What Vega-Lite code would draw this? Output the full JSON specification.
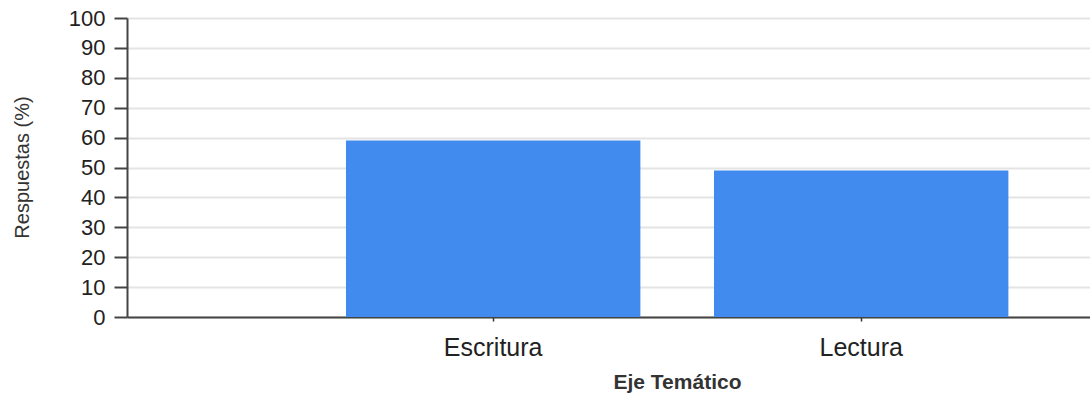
{
  "$schema": "https://vega.github.io/schema/vega-lite/v6.json",
  "width": 963,
  "height": 299,
  "autosize": {"type": "none"},
  "padding": {"left": 127, "top": 18, "right": 0, "bottom": 80},
  "background": "white",
  "config": {"view": {"stroke": null}, "font": "Liberation Sans"},
  "data": {"values": [
    {"eje": "Escritura", "pct": 59},
    {"eje": "Lectura", "pct": 49}
  ]},
  "mark": {"type": "bar", "color": "#418AEE"},
  "encoding": {
    "x": {
      "field": "eje", "type": "nominal",
      "scale": {"domain": ["Escritura", "Lectura"], "paddingInner": 0.2, "paddingOuter": 0.4084, "align": 0.7285},
      "axis": {
        "title": "Eje Temático", "titleFont": "Liberation Sans", "titleFontSize": 21, "titleFontWeight": "bold", "titleColor": "#333",
        "titleX": 550, "titleY": 65, "titleBaseline": "middle", "titleAlign": "center",
        "labelAngle": 0, "labelFontSize": 25, "labelColor": "#222", "labelPadding": 14,
        "tickSize": 4, "tickColor": "#333", "tickWidth": 1.5,
        "domainColor": "#444", "domainWidth": 2, "grid": false
      }
    },
    "y": {
      "field": "pct", "type": "quantitative",
      "scale": {"domain": [0, 100], "nice": false},
      "axis": {
        "title": "Respuestas (%)", "titleFont": "Liberation Sans", "titleFontSize": 20, "titleFontWeight": "normal", "titleColor": "#333",
        "titleX": -105, "titleY": 149, "titleAngle": -90, "titleBaseline": "middle", "titleAlign": "center",
        "values": [0, 10, 20, 30, 40, 50, 60, 70, 80, 90, 100],
        "labelFontSize": 22, "labelColor": "#222", "labelPadding": 9,
        "tickSize": 13, "tickColor": "#444", "tickWidth": 2,
        "domainColor": "#444", "domainWidth": 2,
        "grid": true, "gridColor": "#e4e4e4", "gridWidth": 2
      }
    }
  }
}
